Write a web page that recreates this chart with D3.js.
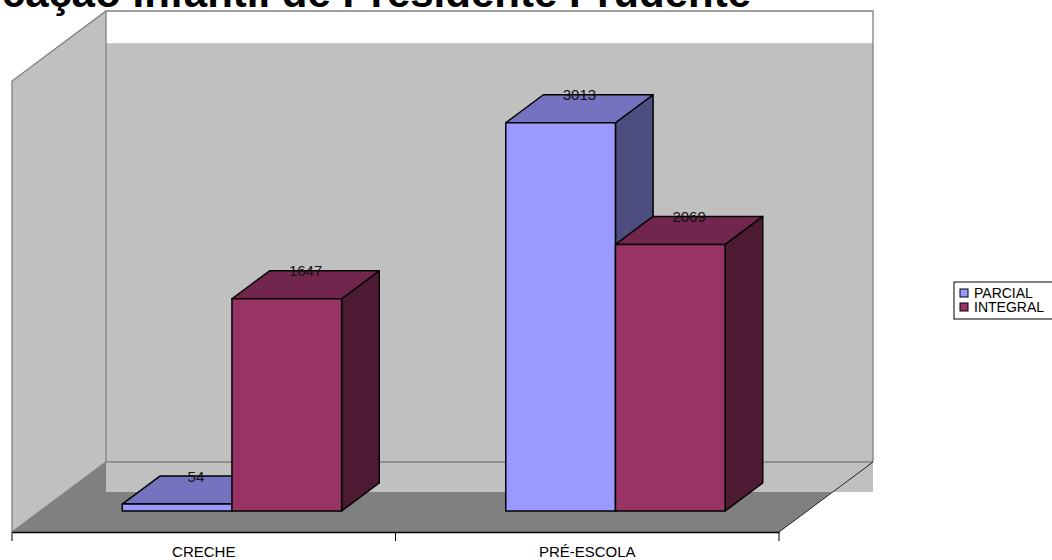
<!DOCTYPE html>
<html>
<head>
<meta charset="utf-8">
<script src="https://cdn.jsdelivr.net/npm/d3@7"></script>
<style>
  body { margin: 0; background: #fff; }
  svg { display: block; font-family: Arial, "Liberation Sans", sans-serif; }
</style>
</head>
<body>
<script>
// Matrículas por categoria
const categories = ["CRECHE", "PRÉ-ESCOLA"];
const series = ["PARCIAL", "INTEGRAL"];
const parcial = [54, 3013];
const integral = [1647, 2069];
const title = "Educação Infantil de Presidente Prudente";

const width = 1052;
const height = 560;

// 3D look: depth goes up and to the right
const depth = 70;          // floor depth in px (vertical)
const slope = 94 / 70;     // horizontal shift per px of depth
const barFront = 21;       // bar front plane depth
const barBack = 49;        // bar back plane depth

const colors = {
  PARCIAL: { front: "#9999ff", top: "#7373bf", side: "#4d4d80" },
  INTEGRAL: { front: "#993366", top: "#73264d", side: "#4d1a33" }
};

const svg = d3.select("body").append("svg")
  .attr("width", width)
  .attr("height", height);

const x = d3.scaleBand()
  .domain(categories)
  .range([12, 779]);

const xs = d3.scaleBand()
  .domain(series)
  .range([x.bandwidth() * 0.214, x.bandwidth() * 0.786]);

const y = d3.scaleLinear()
  .domain([0, 3500])
  .range([532, 81]);

// project a front-plane point back by d px of depth
const P = (px, py, d) => [px + d * slope, py - d];
const poly = pts => pts.map(p => p.join(",")).join(" ");

const x0 = x.range()[0], x1 = x.range()[1];
const floorY = y(0);
const topY = y(3500);

// floor
svg.append("polygon")
  .attr("points", poly([[x0, floorY], P(x0, floorY, depth), P(x1, floorY, depth), [x1, floorY]]))
  .attr("fill", "#808080");

// left wall
svg.append("polygon")
  .attr("points", poly([[x0, floorY], [x0, topY], P(x0, topY, depth), P(x0, floorY, depth)]))
  .attr("fill", "#c0c0c0");

// back wall
const bw = P(x0, topY, depth), bw2 = P(x1, floorY, depth);
svg.append("rect")
  .attr("x", bw[0]).attr("y", bw[1])
  .attr("width", bw2[0] - bw[0]).attr("height", bw2[1] - bw[1])
  .attr("fill", "#fff");
svg.append("rect")
  .attr("x", bw[0]).attr("y", y(3250) - depth)
  .attr("width", bw2[0] - bw[0]).attr("height", bw2[1] + 30 - (y(3250) - depth))
  .attr("fill", "#c0c0c0");

// wall edges
const edge = svg.append("g").attr("fill", "none").attr("stroke", "#808080").attr("stroke-width", 1.3);
edge.append("polyline")
  .attr("points", poly([[x0, floorY], [x0, topY], P(x0, topY, depth), P(x1, topY, depth), P(x1, floorY, depth)]));
edge.append("polyline")
  .attr("points", poly([[x0, floorY], P(x0, floorY, depth), P(x1, floorY, depth)]));
edge.append("line")
  .attr("x1", P(x0, topY, depth)[0]).attr("y1", P(x0, topY, depth)[1])
  .attr("x2", P(x0, floorY, depth)[0]).attr("y2", P(x0, floorY, depth)[1]);
svg.append("line")
  .attr("x1", x1).attr("y1", floorY)
  .attr("x2", P(x1, floorY, depth)[0]).attr("y2", P(x1, floorY, depth)[1])
  .attr("stroke", "#222").attr("stroke-width", 1);

// bars
const rows = [];
categories.forEach((c, i) => {
  rows.push({ cat: c, key: "PARCIAL", value: parcial[i] });
  rows.push({ cat: c, key: "INTEGRAL", value: integral[i] });
});

const bars = svg.append("g").attr("stroke", "#000").attr("stroke-width", 1.5).attr("stroke-linejoin", "round");
rows.forEach(d => {
  const bx = x(d.cat) + xs(d.key);
  const w = xs.bandwidth();
  const yt = y(d.value);
  const col = colors[d.key];
  // side
  bars.append("polygon")
    .attr("points", poly([P(bx + w, yt, barFront), P(bx + w, yt, barBack), P(bx + w, floorY, barBack), P(bx + w, floorY, barFront)]))
    .attr("fill", col.side);
  // top
  bars.append("polygon")
    .attr("points", poly([P(bx, yt, barFront), P(bx + w, yt, barFront), P(bx + w, yt, barBack), P(bx, yt, barBack)]))
    .attr("fill", col.top);
  // front
  const f = P(bx, yt, barFront);
  bars.append("rect")
    .attr("x", f[0]).attr("y", f[1])
    .attr("width", w).attr("height", floorY - yt)
    .attr("fill", col.front);
});

// value labels
svg.append("g")
  .selectAll("text")
  .data(rows)
  .join("text")
  .attr("x", d => P(x(d.cat) + xs(d.key) + xs.bandwidth() / 2, y(d.value), (barFront + barBack) / 2)[0])
  .attr("y", d => P(0, y(d.value), barBack)[1] + 5.5)
  .attr("text-anchor", "middle")
  .attr("font-size", 15)
  .attr("fill", "#111")
  .text(d => d.value);

// category axis
const axis = svg.append("g")
  .attr("transform", `translate(0,${floorY})`)
  .call(d3.axisBottom(x).tickSize(0).tickPadding(14));
axis.select(".domain").attr("stroke", "#000").attr("stroke-width", 1.5);
axis.selectAll("text").attr("font-size", 15).attr("font-family", "Arial, 'Liberation Sans', sans-serif").attr("fill", "#000");
axis.selectAll(".tick line").remove();
axis.selectAll(".sep")
  .data([x0, x0 + x.bandwidth(), x1])
  .join("line")
  .attr("x1", d => d).attr("x2", d => d)
  .attr("y1", 0).attr("y2", 9)
  .attr("stroke", "#000");

// title (mostly cut off at the top)
svg.append("text")
  .attr("x", 751)
  .attr("y", 7)
  .attr("text-anchor", "end")
  .attr("font-size", 42)
  .attr("font-weight", "bold")
  .text(title);

// legend
const legend = svg.append("g").attr("transform", "translate(954,282)");
legend.append("rect")
  .attr("width", 110).attr("height", 37)
  .attr("fill", "#fff").attr("stroke", "#000");
const li = legend.selectAll(".li")
  .data(series)
  .join("g")
  .attr("transform", (d, i) => `translate(6,${11 + i * 14})`);
li.append("rect")
  .attr("y", -4).attr("width", 8).attr("height", 8)
  .attr("fill", d => colors[d].front).attr("stroke", "#000");
li.append("text")
  .attr("x", 14).attr("y", 5)
  .attr("font-size", 14)
  .text(d => d);
</script>
</body>
</html>
